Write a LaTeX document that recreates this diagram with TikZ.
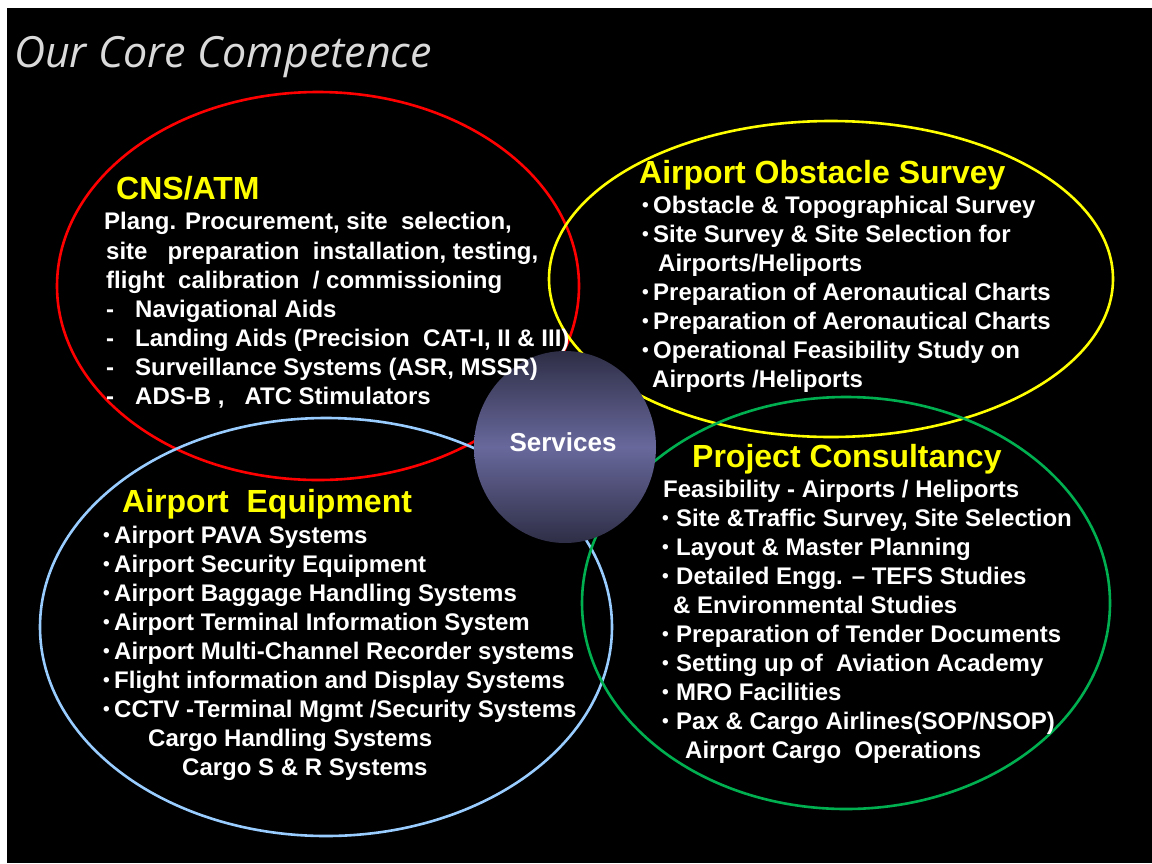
\documentclass[tikz,border=0pt]{standalone}
\usepackage{fontspec}
\setmainfont{Liberation Sans}
\newfontfamily\titlefont{Open Sans}
\usetikzlibrary{shapes.geometric}
\definecolor{hdyellow}{HTML}{FFFF00}
\definecolor{ringred}{HTML}{FF0000}
\definecolor{ringyellow}{HTML}{FFFF00}
\definecolor{ringblue}{HTML}{99CCFF}
\definecolor{ringgreen}{HTML}{00B050}
\definecolor{svcdark}{HTML}{2E2E46}
\definecolor{svclight}{HTML}{68689C}
\definecolor{titlegray}{HTML}{DADADA}
\newcommand{\bul}{\makebox[11pt][l]{\raisebox{2pt}{\fontsize{19}{19}\selectfont•}}}
\newcommand{\gbul}{\makebox[14pt][l]{\raisebox{2pt}{\fontsize{19}{19}\selectfont•}}}
\newcommand{\dsh}{\makebox[29pt][l]{-}}
\begin{document}
\begin{tikzpicture}[x=1pt,y=-1pt,
  ring/.style={ellipse,draw,line width=2.6pt,inner sep=0pt},
  head/.style={text=hdyellow,font=\fontsize{32}{36}\selectfont\bfseries,anchor=base west,inner sep=0pt},
  body/.style={text=white,font=\fontsize{24}{29}\selectfont\bfseries,anchor=base west,inner sep=0pt},
]
\useasboundingbox (0,0) rectangle (1152,863);
\fill[white] (0,0) rectangle (1152,863);
\fill[black] (7,8) rectangle (1152,863);

% title
\node[anchor=base west,inner sep=0pt,text=titlegray,font=\titlefont\itshape\fontsize{43}{50}\selectfont] (title) at (14,67) {Our Core Competence};

% rings
\node[ring,draw=ringred,minimum width=522pt,minimum height=388pt] (cns) at (318,286) {};
\node[ring,draw=ringyellow,minimum width=564pt,minimum height=316pt] (aos) at (831,279) {};
\node[ring,draw=ringblue,minimum width=572pt,minimum height=418pt] (aeq) at (326,627) {};
\node[ring,draw=ringgreen,minimum width=528pt,minimum height=412pt] (pc) at (846,603) {};

% services
\shade[top color=svcdark,bottom color=svcdark,middle color=svclight] (565,447) ellipse [x radius=91pt,y radius=96pt];
\node[text=white,font=\fontsize{26}{30}\selectfont\bfseries,inner sep=0pt] (svc) at (563,442) {Services};

% CNS/ATM
\node[head] (c0) at (116,199.5) {CNS/ATM};
\node[body] (c1) at (104,229.5) {Plang. Procurement, site\ \ selection,};
\node[body] (c2) at (106,259.5) {site\ \ \ preparation\ \ installation, testing,};
\node[body] (c3) at (106,288.5) {flight\ \ calibration\ \ / commissioning};
\node[body] (c4) at (106,317.5) {\dsh Navigational Aids};
\node[body] (c5) at (106,346.5) {\dsh Landing Aids (Precision\ \ CAT-I, II \& III)};
\node[body] (c6) at (106,375.5) {\dsh Surveillance Systems (ASR, MSSR)};
\node[body] (c7) at (106,404.5) {\dsh ADS-B ,\ \ \ ATC Stimulators};

% Airport Obstacle Survey
\node[head] (y0) at (639,183.5) {Airport Obstacle Survey};
\node[body] (y1) at (642,213.5) {\bul Obstacle \& Topographical Survey};
\node[body] (y2) at (642,242.5) {\bul Site Survey \& Site Selection for};
\node[body] (y3) at (658,271.5) {Airports/Heliports};
\node[body] (y4) at (642,300.5) {\bul Preparation of Aeronautical Charts};
\node[body] (y5) at (642,329.5) {\bul Preparation of Aeronautical Charts};
\node[body] (y6) at (642,358.5) {\bul Operational Feasibility Study on};
\node[body] (y7) at (652,387.5) {Airports /Heliports};

% Airport Equipment
\node[head] (b0) at (122,512.5) {Airport\ \ Equipment};
\node[body] (b1) at (103,543.5) {\bul Airport PAVA Systems};
\node[body] (b2) at (103,572.5) {\bul Airport Security Equipment};
\node[body] (b3) at (103,601.5) {\bul Airport Baggage Handling Systems};
\node[body] (b4) at (103,630.5) {\bul Airport Terminal Information System};
\node[body] (b5) at (103,659.5) {\bul Airport Multi-Channel Recorder systems};
\node[body] (b6) at (103,688.5) {\bul Flight information and Display Systems};
\node[body] (b7) at (103,717.5) {\bul CCTV -Terminal Mgmt /Security Systems};
\node[body] (b8) at (148,746.5) {Cargo Handling Systems};
\node[body] (b9) at (182,775.5) {Cargo S \& R Systems};

% Project Consultancy
\node[head] (g0) at (692,467.5) {Project Consultancy};
\node[body] (g1) at (663,497.5) {Feasibility - Airports / Heliports};
\node[body] (g2) at (662,526.5) {\gbul Site \&Traffic Survey, Site Selection};
\node[body] (g3) at (662,555.5) {\gbul Layout \& Master Planning};
\node[body] (g4) at (662,584.5) {\gbul Detailed Engg. – TEFS Studies};
\node[body] (g5) at (673,613.5) {\& Environmental Studies};
\node[body] (g6) at (662,642.5) {\gbul Preparation of Tender Documents};
\node[body] (g7) at (662,671.5) {\gbul Setting up of\ \ Aviation Academy};
\node[body] (g8) at (662,700.5) {\gbul MRO Facilities};
\node[body] (g9) at (662,729.5) {\gbul Pax \& Cargo Airlines(SOP/NSOP)};
\node[body] (g10) at (685,758.5) {Airport Cargo\ \ Operations};
\end{tikzpicture}
\end{document}
